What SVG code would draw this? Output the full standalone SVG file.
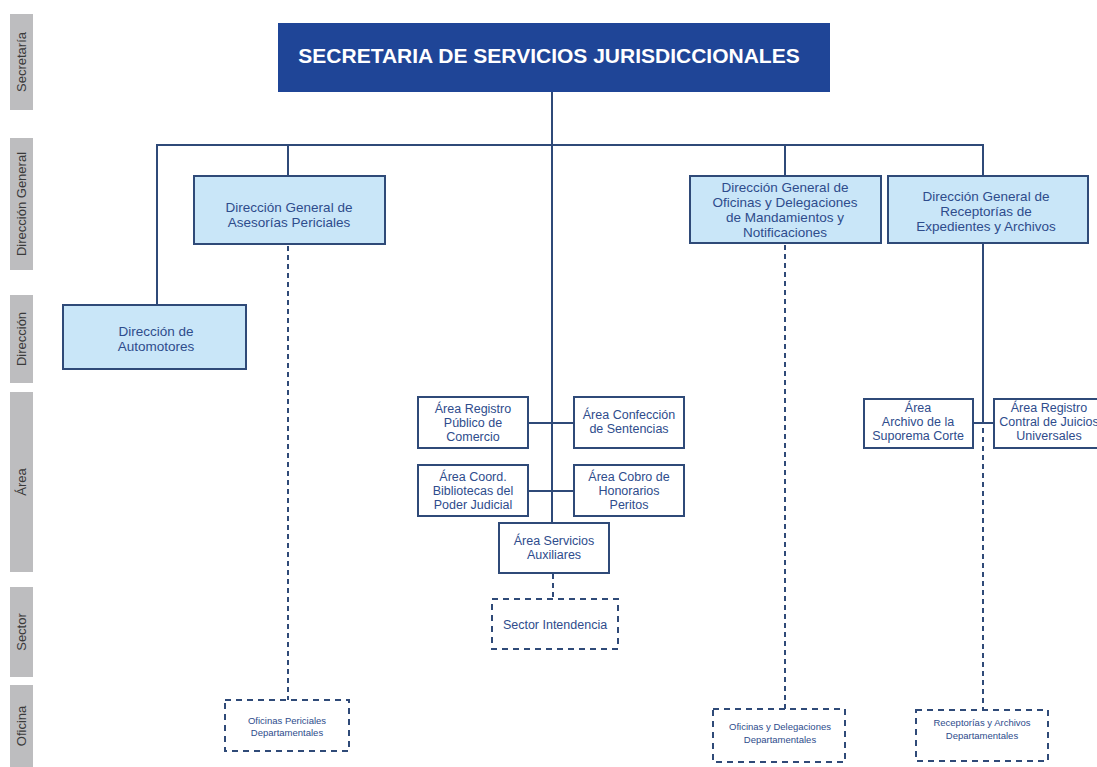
<svg xmlns="http://www.w3.org/2000/svg" width="1097" height="767" viewBox="0 0 1097 767">
<style>
.band{fill:#bdbdbf}
.bt{font-family:"Liberation Sans",Arial,sans-serif;font-size:13px;fill:#3a3a3a;text-anchor:middle}
.dg{fill:#c9e6f8;stroke:#2f4a78;stroke-width:2}
.ar{fill:#ffffff;stroke:#2f4a78;stroke-width:2}
.ds{fill:#ffffff;stroke:#2f4a78;stroke-width:2;stroke-dasharray:6 5}
.t{font-family:"Liberation Sans",Arial,sans-serif;font-size:13.5px;fill:#2e4c8c;text-anchor:middle}
.ta{font-family:"Liberation Sans",Arial,sans-serif;font-size:12.5px;fill:#2e4c8c;text-anchor:middle}
.ts{font-family:"Liberation Sans",Arial,sans-serif;font-size:9.5px;fill:#2e4c8c;text-anchor:middle}
.c{stroke:#2f4a78;stroke-width:2;fill:none}
.cd{stroke:#2f4a78;stroke-width:2;fill:none;stroke-dasharray:5 4}
</style>
<rect width="1097" height="767" fill="#ffffff"/>
<g id="bands">
<rect class="band" x="10" y="14" width="23" height="96"/>
<text class="bt" transform="translate(26,62) rotate(-90)">Secretaría</text>
<rect class="band" x="10" y="138" width="23" height="132"/>
<text class="bt" transform="translate(26,204) rotate(-90)">Dirección General</text>
<rect class="band" x="10" y="295" width="23" height="88"/>
<text class="bt" transform="translate(26,339) rotate(-90)">Dirección</text>
<rect class="band" x="10" y="392" width="23" height="180"/>
<text class="bt" transform="translate(26,482) rotate(-90)">Área</text>
<rect class="band" x="10" y="587" width="23" height="90"/>
<text class="bt" transform="translate(26,632) rotate(-90)">Sector</text>
<rect class="band" x="10" y="685" width="23" height="82"/>
<text class="bt" transform="translate(26,726) rotate(-90)">Oficina</text>
</g>
<g id="connectors">
<line class="c" x1="552" y1="92" x2="552" y2="523"/>
<line class="c" x1="156" y1="145" x2="984" y2="145"/>
<line class="c" x1="157" y1="144" x2="157" y2="305"/>
<line class="c" x1="288" y1="144" x2="288" y2="176"/>
<line class="c" x1="785" y1="144" x2="785" y2="176"/>
<line class="c" x1="983" y1="144" x2="983" y2="176"/>
<line class="cd" x1="288" y1="246" x2="288" y2="700"/>
<line class="cd" x1="785" y1="245" x2="785" y2="709"/>
<line class="c" x1="983" y1="243" x2="983" y2="424"/>
<line class="cd" x1="983" y1="428" x2="983" y2="709"/>
<line class="c" x1="973" y1="423" x2="994" y2="423"/>
<line class="c" x1="528" y1="423" x2="574" y2="423"/>
<line class="c" x1="528" y1="491" x2="574" y2="491"/>
<line class="cd" x1="553" y1="574" x2="553" y2="599"/>
</g>
<g id="secretaria">
<rect x="278" y="23" width="552" height="69" fill="#1f4597"/>
<text x="549" y="63" font-family="'Liberation Sans',Arial,sans-serif" font-size="21" font-weight="bold" fill="#ffffff" text-anchor="middle">SECRETARIA DE SERVICIOS JURISDICCIONALES</text>
</g>
<g id="dg-asesorias">
<rect class="dg" x="194" y="176" width="191" height="68"/>
<text class="t" x="289" y="212">Dirección General de</text>
<text class="t" x="289" y="227">Asesorías Periciales</text>
</g>
<g id="dg-oficinas">
<rect class="dg" x="690" y="176" width="191" height="67"/>
<text class="t" x="785" y="192">Dirección General de</text>
<text class="t" x="785" y="207">Oficinas y Delegaciones</text>
<text class="t" x="785" y="222">de Mandamientos y</text>
<text class="t" x="785" y="237">Notificaciones</text>
</g>
<g id="dg-receptorias">
<rect class="dg" x="888" y="176" width="200" height="67"/>
<text class="t" x="986" y="201">Dirección General de</text>
<text class="t" x="986" y="216">Receptorías de</text>
<text class="t" x="986" y="231">Expedientes y Archivos</text>
</g>
<g id="dir-automotores">
<rect class="dg" x="63" y="305" width="183" height="64"/>
<text class="t" x="156" y="336">Dirección de</text>
<text class="t" x="156" y="351">Automotores</text>
</g>
<g id="area-registro">
<rect class="ar" x="418" y="397" width="110" height="51"/>
<text class="ta" x="473" y="413">Área Registro</text>
<text class="ta" x="473" y="427">Público de</text>
<text class="ta" x="473" y="441">Comercio</text>
</g>
<g id="area-confeccion">
<rect class="ar" x="574" y="397" width="110" height="51"/>
<text class="ta" x="629" y="419">Área Confección</text>
<text class="ta" x="629" y="433">de Sentencias</text>
</g>
<g id="area-bibliotecas">
<rect class="ar" x="418" y="465" width="110" height="51"/>
<text class="ta" x="473" y="481">Área Coord.</text>
<text class="ta" x="473" y="495">Bibliotecas del</text>
<text class="ta" x="473" y="509">Poder Judicial</text>
</g>
<g id="area-cobro">
<rect class="ar" x="574" y="465" width="110" height="51"/>
<text class="ta" x="629" y="481">Área Cobro de</text>
<text class="ta" x="629" y="495">Honorarios</text>
<text class="ta" x="629" y="509">Peritos</text>
</g>
<g id="area-servicios">
<rect class="ar" x="499" y="523" width="110" height="50"/>
<text class="ta" x="554" y="545">Área Servicios</text>
<text class="ta" x="554" y="559">Auxiliares</text>
</g>
<g id="area-archivo">
<rect class="ar" x="864" y="399" width="109" height="49"/>
<text class="ta" x="918" y="412">Área</text>
<text class="ta" x="918" y="426">Archivo de la</text>
<text class="ta" x="918" y="440">Suporema Corte</text>
</g>
<g id="area-juicios">
<rect class="ar" x="994" y="399" width="110" height="49"/>
<text class="ta" x="1049" y="412">Área  Registro</text>
<text class="ta" x="1049" y="426">Contral de Juicios</text>
<text class="ta" x="1049" y="440">Universales</text>
</g>
<g id="sector-intendencia">
<rect class="ds" x="492" y="599" width="126" height="50"/>
<text class="ta" x="555" y="629">Sector Intendencia</text>
</g>
<g id="of-periciales">
<rect class="ds" x="225" y="700" width="124" height="51"/>
<text class="ts" x="287" y="724">Oficinas Periciales</text>
<text class="ts" x="287" y="736">Departamentales</text>
</g>
<g id="of-delegaciones">
<rect class="ds" x="713" y="709" width="132" height="53"/>
<text class="ts" x="780" y="730">Oficinas y Delegaciones</text>
<text class="ts" x="780" y="743">Departamentales</text>
</g>
<g id="of-receptorias">
<rect class="ds" x="916" y="710" width="132" height="51"/>
<text class="ts" x="982" y="726">Receptorías y Archivos</text>
<text class="ts" x="982" y="739">Departamentales</text>
</g>
</svg>
